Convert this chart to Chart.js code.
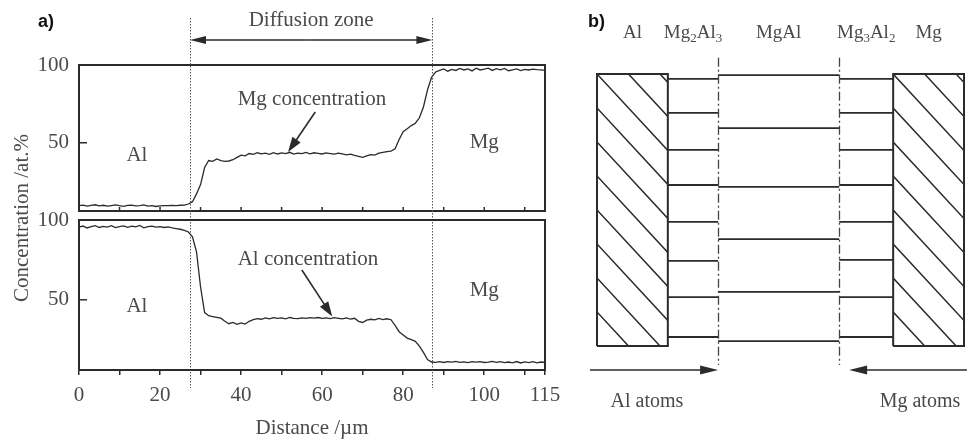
<!DOCTYPE html>
<html>
<head>
<meta charset="utf-8">
<title>Al/Mg diffusion couple</title>
<script src="https://cdn.jsdelivr.net/npm/chart.js@4.4.1/dist/chart.umd.min.js"></script>
<style>
  html, body { margin: 0; padding: 0; background: #fff; }
  #wrap { position: relative; width: 969px; height: 441px; overflow: hidden; }
  .panel { position: absolute; top: 0; height: 441px; }
</style>
</head>
<body>
<div id="wrap">
  <div class="panel" style="left:0;width:560px"><canvas id="mgChart"></canvas></div>
  <div class="panel" style="left:0;width:560px"><canvas id="alChart"></canvas></div>
  <div class="panel" style="left:560px;width:409px"><canvas id="layerChart"></canvas></div>
</div>
<script>
// ---- a) EDS line scan across the couple (at.% vs distance in µm) ----
const distance = [
  0, 1, 2, 3, 4, 5, 6, 7, 8, 9, 10, 11, 12, 13, 14, 15, 16, 17, 18, 19,
  20, 21, 22, 23, 24, 25, 26, 27, 28, 29, 30, 31, 32, 33, 34, 35, 36, 37, 38, 39,
  40, 41, 42, 43, 44, 45, 46, 47, 48, 49, 50, 51, 52, 53, 54, 55, 56, 57, 58, 59,
  60, 61, 62, 63, 64, 65, 66, 67, 68, 69, 70, 71, 72, 73, 74, 75, 76, 77, 78, 79,
  80, 81, 82, 83, 84, 85, 86, 87, 88, 89, 90, 91, 92, 93, 94, 95, 96, 97, 98, 99,
  100, 101, 102, 103, 104, 105, 106, 107, 108, 109, 110, 111, 112, 113, 114, 115
];
const mgConc = [
  9.5, 9.8, 9.2, 9.6, 10.0, 9.3, 9.7, 9.1, 9.5, 9.9,
  9.4, 9.0, 9.6, 9.8, 9.3, 9.5, 9.9, 9.2, 9.4, 8.9,
  9.3, 9.5, 9.4, 9.6, 9.5, 9.7, 9.8, 10.5, 12.0, 17.0,
  23.0, 34.0, 38.5, 38.0, 39.5, 38.5, 38.0, 38.2, 39.0, 40.5,
  42.0, 41.5, 43.0, 42.5, 43.5, 42.8, 43.2, 42.5, 43.6, 42.7,
  43.4, 42.9, 43.8, 42.6, 43.3, 43.0, 43.7, 42.8, 43.5, 43.1,
  42.7, 43.4, 43.0, 42.6, 43.3, 42.8, 42.2, 42.6, 41.8, 41.2,
  40.6, 41.5, 42.3, 42.0, 43.2, 43.8, 44.2, 44.6, 46.0, 52.0,
  57.0, 59.0, 61.0, 62.5, 66.0, 73.0, 84.0, 92.0, 95.5, 96.5,
  97.5, 96.0, 97.2, 96.5, 97.8, 96.8, 97.5, 96.2, 97.9, 96.8,
  97.3, 98.0, 96.5, 97.6, 96.9, 97.8, 96.3, 96.9, 97.5, 96.4,
  97.2, 96.8, 97.4, 97.0, 96.9, 96.6
];
const alConc = [
  95.5, 96.2, 95.0, 95.8, 96.5, 95.3, 96.0, 95.6, 96.4, 95.2,
  95.9, 96.3, 95.4, 96.1, 95.7, 96.6, 95.1, 95.8, 96.2, 95.5,
  95.9, 95.3, 95.7, 95.0, 94.6, 94.2, 93.5, 92.5, 89.5, 80.0,
  58.0, 42.0, 40.0, 39.5, 39.0, 38.5, 36.5, 35.0, 35.8, 34.6,
  35.5, 34.8, 36.5, 37.5, 38.2, 37.8, 38.6, 38.0, 38.8, 38.3,
  38.6, 38.1, 38.9, 38.4, 38.2, 38.7, 38.3, 38.8, 38.5, 38.9,
  38.4, 38.7, 38.2, 38.8, 38.4, 38.0, 38.6, 37.9, 38.4, 36.5,
  35.8, 37.2, 37.8, 37.4, 38.3, 37.6, 38.1, 37.5, 34.0, 30.0,
  28.0, 26.0, 25.0, 24.0, 21.0, 17.0, 12.5, 11.0, 10.8, 11.2,
  10.7, 11.3, 10.9, 11.4, 10.8, 11.1, 10.6, 11.2, 10.9, 11.3,
  10.7, 11.0, 11.4, 10.8, 11.2, 10.6, 11.0, 10.5, 11.3, 10.4,
  11.1, 10.6, 11.2, 10.5, 11.0, 10.7
];
const xTicks = [0, 10, 20, 30, 40, 50, 60, 70, 80, 90, 100, 110, 115];
const xTickLabels = [0, 20, 40, 60, 80, 100, 115];
const yTicks = [50, 100];
const yRange = [6, 100];
const zoneBounds = [27.4, 87.2];

// ---- b) layer schematic (x: 0-100 across the couple, y: 0-100 block height) ----
const phaseNames = ["Al", "Mg2Al3", "MgAl", "Mg3Al2", "Mg"];
const phaseEdges = [0, 19.3, 33, 66, 80.7, 100];
const mg2al3Planes = [98.2, 85.7, 72.1, 59.2, 45.6, 31.3, 18.0, 3.3];
const mgalPlanes = [99.6, 80.1, 58.5, 39.3, 19.9, 1.8];
const mg3al2Planes = [98.2, 85.7, 72.1, 59.2, 45.6, 31.7, 18.0, 3.3];
const fluxLabels = ["Al atoms", "Mg atoms"];

const INK = "#2b2b2b";
const TEXT = "#4a4a4a";
const SERIF = '"Liberation Serif", "DejaVu Serif", serif';

Chart.defaults.font.family = SERIF;
Chart.defaults.font.size = 21;
Chart.defaults.color = TEXT;
Chart.defaults.animation = false;

function drawArrow(ctx, x0, y0, x1, y1, headLen, headHalf) {
  const ang = Math.atan2(y1 - y0, x1 - x0);
  const cos = Math.cos(ang), sin = Math.sin(ang);
  const bx = x1 - headLen * cos, by = y1 - headLen * sin;
  ctx.beginPath();
  ctx.moveTo(x0, y0);
  ctx.lineTo(bx + 2 * cos, by + 2 * sin);
  ctx.stroke();
  ctx.beginPath();
  ctx.moveTo(x1, y1);
  ctx.lineTo(bx - headHalf * sin, by + headHalf * cos);
  ctx.lineTo(bx + headHalf * sin, by - headHalf * cos);
  ctx.closePath();
  ctx.fill();
}

// box round the plot area plus the inward tick marks
function drawFrame(chart, innerXTicks) {
  const { ctx, chartArea: a, scales: { x, y } } = chart;
  ctx.save();
  ctx.strokeStyle = INK;
  ctx.lineWidth = 2;
  ctx.strokeRect(a.left, a.top, a.right - a.left, a.bottom - a.top);
  ctx.lineWidth = 1.5;
  ctx.beginPath();
  yTicks.filter((v) => v < y.max).forEach((v) => {
    const py = y.getPixelForValue(v);
    ctx.moveTo(a.left, py);
    ctx.lineTo(a.left + 8, py);
  });
  if (innerXTicks) {
    xTicks.forEach((v) => {
      const px = x.getPixelForValue(v);
      ctx.moveTo(px, a.bottom);
      ctx.lineTo(px, a.bottom - 4);
    });
  }
  ctx.stroke();
  ctx.restore();
}

function label(ctx, text, px, py, size) {
  ctx.font = `${size || 21}px ${SERIF}`;
  ctx.fillStyle = TEXT;
  ctx.textAlign = "center";
  ctx.textBaseline = "middle";
  ctx.fillText(text, px, py);
}

const mgDecor = {
  id: "mgDecor",
  afterDatasetsDraw(chart) {
    const { ctx, scales: { x, y } } = chart;
    drawFrame(chart, true);
    ctx.save();
    // zone boundaries run down through both panels
    ctx.strokeStyle = "#555";
    ctx.lineWidth = 1;
    ctx.setLineDash([1.5, 1.5]);
    zoneBounds.forEach((v) => {
      const px = Math.round(x.getPixelForValue(v)) + 0.5;
      ctx.beginPath();
      ctx.moveTo(px, 18);
      ctx.lineTo(px, chart.height - 53);
      ctx.stroke();
    });
    ctx.setLineDash([]);
    const xs = x.getPixelForValue(zoneBounds[0]);
    const xe = x.getPixelForValue(zoneBounds[1]);
    const mid = (xs + xe) / 2;
    ctx.strokeStyle = INK;
    ctx.fillStyle = INK;
    ctx.lineWidth = 1.5;
    drawArrow(ctx, mid, 40, xe, 40, 16, 4);
    drawArrow(ctx, mid, 40, xs, 40, 16, 4);
    label(ctx, "Diffusion zone", mid, 20);

    label(ctx, "Mg concentration", x.getPixelForValue(57.5), y.getPixelForValue(77.5));
    ctx.strokeStyle = INK;
    ctx.fillStyle = INK;
    ctx.lineWidth = 1.6;
    drawArrow(ctx, x.getPixelForValue(58.3), y.getPixelForValue(69.7),
      x.getPixelForValue(51.6), y.getPixelForValue(44), 15, 5);
    label(ctx, "Al", x.getPixelForValue(14.3), y.getPixelForValue(42));
    label(ctx, "Mg", x.getPixelForValue(100), y.getPixelForValue(50));

    // shared axis title + panel letter
    ctx.font = `bold 18px "Liberation Sans", Arial, sans-serif`;
    ctx.fillStyle = "#111";
    ctx.textAlign = "left";
    ctx.fillText("a)", 38, 22);
    ctx.translate(22, 218);
    ctx.rotate(-Math.PI / 2);
    label(ctx, "Concentration /at.%", 0, 0);
    ctx.restore();
  },
};

const alDecor = {
  id: "alDecor",
  afterDatasetsDraw(chart) {
    const { ctx, scales: { x, y } } = chart;
    drawFrame(chart, false);
    ctx.save();
    label(ctx, "Al concentration", x.getPixelForValue(56.5), y.getPixelForValue(75));
    ctx.strokeStyle = INK;
    ctx.fillStyle = INK;
    ctx.lineWidth = 1.6;
    drawArrow(ctx, x.getPixelForValue(55), y.getPixelForValue(68.7),
      x.getPixelForValue(62.5), y.getPixelForValue(39.5), 15, 5);
    label(ctx, "Al", x.getPixelForValue(14.3), y.getPixelForValue(46));
    label(ctx, "Mg", x.getPixelForValue(100), y.getPixelForValue(56));
    ctx.restore();
  },
};

function scanChart(id, values, top, bottom, withAxis, decor) {
  return new Chart(document.getElementById(id), {
    type: "line",
    data: {
      datasets: [
        {
          data: distance.map((d, i) => ({ x: d, y: values[i] })),
          borderColor: INK,
          borderWidth: 1.3,
          pointRadius: 0,
          tension: 0,
        },
      ],
    },
    options: {
      responsive: true,
      maintainAspectRatio: false,
      layout: { padding: { top: top, right: 15, bottom: bottom, left: 0 } },
      plugins: { legend: { display: false }, tooltip: { enabled: false } },
      scales: {
        x: {
          type: "linear",
          min: 0,
          max: 115,
          afterBuildTicks: (s) => { s.ticks = xTicks.map((v) => ({ value: v })); },
          afterFit: (s) => {
            s.height = withAxis ? 71 : 0;
            // let the "115" label hang into the right margin instead of shrinking the plot
            s.paddingLeft = 0;
            s.paddingRight = 0;
          },
          border: { display: false },
          grid: { display: withAxis, drawOnChartArea: false, drawTicks: true, tickLength: 5, color: INK, lineWidth: 1.5 },
          ticks: {
            display: withAxis,
            autoSkip: false,
            maxRotation: 0,
            padding: 8,
            callback: (v) => (xTickLabels.includes(v) ? String(v) : ""),
          },
          title: {
            display: withAxis,
            text: "Distance /µm",
            padding: { top: 0, bottom: 0 },
          },
        },
        y: {
          min: yRange[0],
          max: yRange[1],
          afterBuildTicks: (s) => { s.ticks = yTicks.map((v) => ({ value: v })); },
          afterFit: (s) => { s.width = 79; },
          border: { display: false },
          grid: { display: false, drawTicks: false },
          ticks: { padding: 10 },
        },
      },
    },
    plugins: [decor],
  });
}

scanChart("mgChart", mgConc, 65, 230, false, mgDecor);
scanChart("alChart", alConc, 220, 0, true, alDecor);

// ---- b) schematic ----
function blockOutline(x0, x1) {
  return [
    { x: x0, y: 0 }, { x: x1, y: 0 }, { x: x1, y: 100 }, { x: x0, y: 100 }, { x: x0, y: 0 },
  ];
}
function planeSegments(x0, x1, planes) {
  return planes.flatMap((p) => [{ x: x0, y: p }, { x: x1, y: p }, { x: x1, y: null }]);
}
function drawChem(ctx, formula, cx, cy, size) {
  const parts = formula.match(/[A-Za-z]+|\d+/g);
  const fonts = parts.map((p) =>
    /\d/.test(p) ? `${Math.round(size * 0.68)}px ${SERIF}` : `${size}px ${SERIF}`
  );
  const widths = parts.map((p, i) => { ctx.font = fonts[i]; return ctx.measureText(p).width; });
  let xx = cx - widths.reduce((s, w) => s + w, 0) / 2;
  ctx.textAlign = "left";
  ctx.textBaseline = "alphabetic";
  parts.forEach((p, i) => {
    ctx.font = fonts[i];
    ctx.fillText(p, xx, cy + size * 0.33 + (/\d/.test(p) ? size * 0.2 : 0));
    xx += widths[i];
  });
}
function hatchBlock(ctx, l, t, r, b, gap, slope) {
  ctx.save();
  ctx.beginPath();
  ctx.rect(l, t, r - l, b - t);
  ctx.clip();
  ctx.beginPath();
  const kStart = -Math.ceil(((r - l) * slope) / gap) - 1;
  for (let k = kStart; t + k * gap < b + 1; k++) {
    const y0 = t + k * gap;
    ctx.moveTo(l, y0);
    ctx.lineTo(r, y0 + (r - l) * slope);
  }
  ctx.stroke();
  ctx.restore();
}

const layerDecor = {
  id: "layerDecor",
  beforeDatasetsDraw(chart) {
    const { ctx, scales: { x, y } } = chart;
    ctx.save();
    ctx.strokeStyle = INK;
    ctx.lineWidth = 1.5;
    [[phaseEdges[0], phaseEdges[1]], [phaseEdges[4], phaseEdges[5]]].forEach(([a, b]) => {
      hatchBlock(ctx, x.getPixelForValue(a), y.getPixelForValue(100),
        x.getPixelForValue(b), y.getPixelForValue(0), 34, 1.08);
    });
    ctx.restore();
  },
  afterDatasetsDraw(chart) {
    const { ctx, scales: { x, y } } = chart;
    ctx.save();
    // phase boundaries of the MgAl layer
    ctx.strokeStyle = "#444";
    ctx.lineWidth = 1.3;
    ctx.setLineDash([9, 3, 2, 3]);
    [phaseEdges[2], phaseEdges[3]].forEach((v) => {
      const px = Math.round(x.getPixelForValue(v)) + 0.5;
      ctx.beginPath();
      ctx.moveTo(px, y.getPixelForValue(106));
      ctx.lineTo(px, y.getPixelForValue(-7));
      ctx.stroke();
    });
    ctx.setLineDash([]);
    // diffusion fluxes
    ctx.strokeStyle = INK;
    ctx.fillStyle = INK;
    ctx.lineWidth = 1.6;
    const ay = y.getPixelForValue(-8.8);
    drawArrow(ctx, x.getPixelForValue(-1.9), ay, x.getPixelForValue(phaseEdges[2]), ay, 18, 4.5);
    drawArrow(ctx, x.getPixelForValue(100.8), ay, x.getPixelForValue(68.7), ay, 18, 4.5);
    label(ctx, fluxLabels[0], x.getPixelForValue(13.6), y.getPixelForValue(-20.6), 20);
    label(ctx, fluxLabels[1], x.getPixelForValue(88), y.getPixelForValue(-20.6), 20);
    // phase names above each layer
    ctx.fillStyle = TEXT;
    phaseNames.forEach((name, i) => {
      const cx = x.getPixelForValue((phaseEdges[i] + phaseEdges[i + 1]) / 2);
      drawChem(ctx, name, cx, y.getPixelForValue(115.4), 19);
    });
    ctx.font = `bold 18px "Liberation Sans", Arial, sans-serif`;
    ctx.fillStyle = "#111";
    ctx.textAlign = "left";
    ctx.textBaseline = "middle";
    ctx.fillText("b)", 28, 22);
    ctx.restore();
  },
};

new Chart(document.getElementById("layerChart"), {
  type: "scatter",
  data: {
    datasets: [
      { data: blockOutline(phaseEdges[0], phaseEdges[1]), borderWidth: 2 },
      { data: blockOutline(phaseEdges[4], phaseEdges[5]), borderWidth: 2 },
      { data: planeSegments(phaseEdges[1], phaseEdges[2], mg2al3Planes), borderWidth: 1.8 },
      { data: planeSegments(phaseEdges[2], phaseEdges[3], mgalPlanes), borderWidth: 1.8 },
      { data: planeSegments(phaseEdges[3], phaseEdges[4], mg3al2Planes), borderWidth: 1.8 },
    ].map((d) => ({
      ...d,
      showLine: true,
      spanGaps: false,
      clip: false,
      borderColor: INK,
      pointRadius: 0,
      tension: 0,
    })),
  },
  options: {
    responsive: true,
    maintainAspectRatio: false,
    layout: { padding: { top: 74, right: 5, bottom: 95, left: 37 } },
    plugins: { legend: { display: false }, tooltip: { enabled: false } },
    scales: {
      x: { type: "linear", display: false, min: 0, max: 100 },
      y: { type: "linear", display: false, min: 0, max: 100 },
    },
  },
  plugins: [layerDecor],
});
</script>
</body>
</html>
